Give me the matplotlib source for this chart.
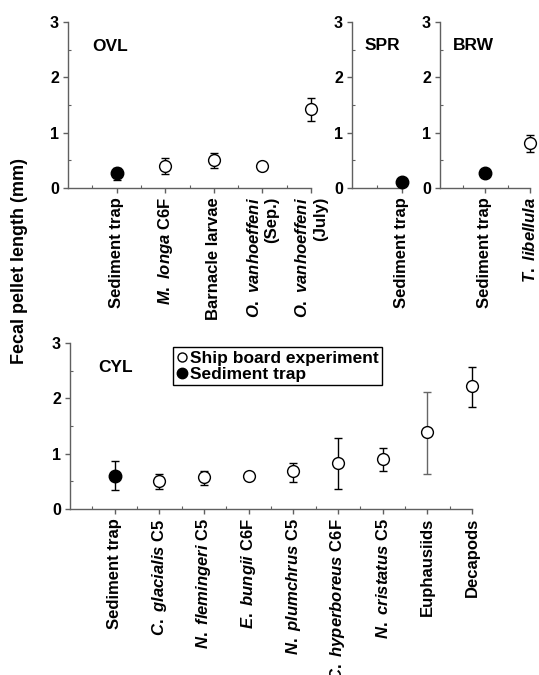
import matplotlib.pyplot as plt
from matplotlib.lines import Line2D


plt.rcParams['font.family'] = ['Liberation Sans', 'DejaVu Sans']
plt.rcParams['font.weight'] = 'bold'
plt.rcParams['mathtext.fontset'] = 'custom'
plt.rcParams['mathtext.it'] = 'Liberation Sans:italic:bold'
plt.rcParams['mathtext.rm'] = 'Liberation Sans:bold'
plt.rcParams['mathtext.bf'] = 'Liberation Sans:bold'

# OVL
ovl_labels = ['Sediment trap', r'$\mathit{M.\ longa}$ C6F', 'Barnacle larvae',
              r'$\mathit{O.\ vanhoeffeni}$' + '\n(Sep.)',
              r'$\mathit{O.\ vanhoeffeni}$' + '\n(July)']
ovl_mean = [0.27, 0.40, 0.51, 0.40, 1.43]
ovl_lo = [0.12, 0.15, 0.14, 0.0, 0.22]
ovl_hi = [0.09, 0.14, 0.13, 0.0, 0.20]
ovl_trap = [True, False, False, False, False]

# SPR
spr_labels = ['Sediment trap']
spr_mean = [0.10]
spr_lo = [0.0]
spr_hi = [0.0]
spr_trap = [True]

# BRW
brw_labels = ['Sediment trap', r'$\mathit{T.\ libellula}$']
brw_mean = [0.27, 0.81]
brw_lo = [0.0, 0.16]
brw_hi = [0.0, 0.14]
brw_trap = [True, False]

# CYL
cyl_labels = ['Sediment trap', r'$\mathit{C.\ glacialis}$ C5', r'$\mathit{N.\ flemingeri}$ C5',
              r'$\mathit{E.\ bungii}$ C6F', r'$\mathit{N.\ plumchrus}$ C5',
              r'$\mathit{C.\ hyperboreus}$ C6F', r'$\mathit{N.\ cristatus}$ C5',
              'Euphausiids', 'Decapods']
cyl_mean = [0.60, 0.51, 0.57, 0.60, 0.68, 0.84, 0.91, 1.39, 2.22]
cyl_lo = [0.26, 0.15, 0.13, 0.0, 0.19, 0.47, 0.22, 0.76, 0.38]
cyl_hi = [0.26, 0.13, 0.11, 0.0, 0.15, 0.44, 0.20, 0.73, 0.35]
cyl_trap = [True, False, False, False, False, False, False, False, False]
cyl_barcolor = ['black'] * 7 + ['#666666', 'black']

spine_col = '#606060'


def panel(fig, rect, name, name_pos, labels, mean, lo, hi, trap, barcolor=None):
    ax = fig.add_axes(rect)
    n = len(labels)
    xs = list(range(1, n + 1))
    if barcolor is None:
        barcolor = ['black'] * n
    for i in range(n):
        if lo[i] > 0 or hi[i] > 0:
            ax.errorbar(xs[i], mean[i], yerr=[[lo[i]], [hi[i]]], fmt='none',
                        ecolor=barcolor[i], elinewidth=1.0, capsize=3, capthick=1.0,
                        zorder=2, clip_on=False)
        if trap[i]:
            ax.plot(xs[i], mean[i], 'o', ms=9, mfc='black', mec='black', zorder=3,
                    clip_on=False)
        else:
            ax.plot(xs[i], mean[i], 'o', ms=8.5, mfc='white', mec='black', mew=1.0,
                    zorder=3, clip_on=False)
    ax.set_xlim(0, n)
    ax.set_ylim(0, 3)
    ax.set_xticks(xs)
    ax.set_xticks([i + 0.5 for i in range(n)], minor=True)
    ax.set_xticklabels(labels, rotation=90, fontsize=12, fontweight='bold',
                       multialignment='right')
    ax.set_yticks([0, 1, 2, 3])
    ax.set_yticks([0.5, 1.5, 2.5], minor=True)
    ax.set_yticklabels(['0', '1', '2', '3'], fontsize=11.5, fontweight='bold')
    for s in ['top', 'right']:
        ax.spines[s].set_visible(False)
    for s in ['left', 'bottom']:
        ax.spines[s].set_color(spine_col)
        ax.spines[s].set_linewidth(1.0)
    ax.tick_params(which='major', direction='out', length=3.5, width=1.0, color=spine_col, pad=3)
    ax.tick_params(which='minor', direction='in', length=2, width=0.8, color=spine_col)
    ax.text(name_pos[0], name_pos[1], name, transform=ax.transAxes, fontsize=12.5,
            fontweight='bold', ha='left', va='center')
    return ax


def main():
    fig = plt.figure(figsize=(5.39, 6.75), dpi=100)
    W, H = 539.0, 675.0

    def r(left, right, top, bottom):
        return [left / W, 1 - bottom / H, (right - left) / W, (bottom - top) / H]

    panel(fig, r(68, 311, 22, 188), 'OVL', (0.099, 0.85),
          ovl_labels, ovl_mean, ovl_lo, ovl_hi, ovl_trap)
    panel(fig, r(352, 402, 22, 188), 'SPR', (0.26, 0.86),
          spr_labels, spr_mean, spr_lo, spr_hi, spr_trap)
    panel(fig, r(440, 530, 22, 188), 'BRW', (0.145, 0.86),
          brw_labels, brw_mean, brw_lo, brw_hi, brw_trap)
    ax = panel(fig, r(70, 472, 343, 509), 'CYL', (0.07, 0.85),
               cyl_labels, cyl_mean, cyl_lo, cyl_hi, cyl_trap, cyl_barcolor)

    handles = [Line2D([], [], marker='o', ls='none', ms=6.5, mfc='white', mec='black', mew=1.0),
               Line2D([], [], marker='o', ls='none', ms=7.5, mfc='black', mec='black')]
    leg = ax.legend(handles, ['Ship board experiment', 'Sediment trap'],
                    loc='upper left', bbox_to_anchor=(0.256, 0.976), borderaxespad=0,
                    prop={'size': 12.5, 'weight': 'bold'}, handlelength=0.6,
                    handletextpad=0.2, borderpad=0.2, labelspacing=0.05,
                    fancybox=False, edgecolor='black', framealpha=1)
    leg.get_frame().set_linewidth(1.0)

    fig.text(20 / W, 1 - 261 / H, 'Fecal pellet length (mm)', rotation=90,
             ha='center', va='center', fontsize=13, fontweight='bold')

    fig.savefig('out.png', dpi=100)


if __name__ == '__main__':
    main()
